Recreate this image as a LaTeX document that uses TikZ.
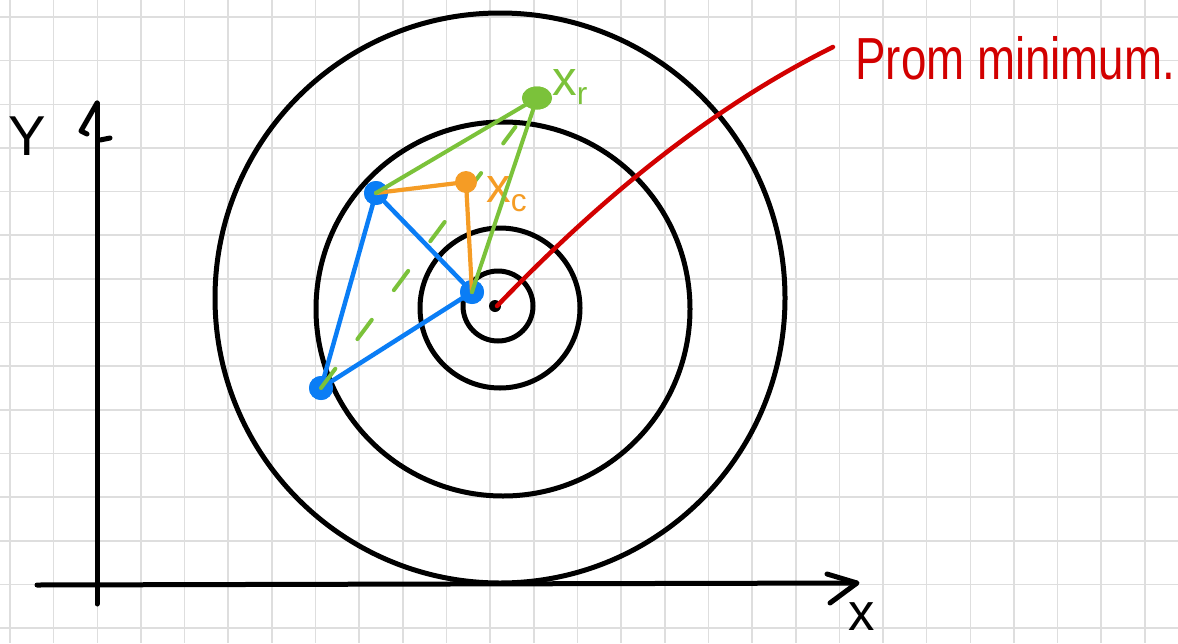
\documentclass[tikz,border=0pt]{standalone}
\usepackage{fontspec}
\setmainfont{Liberation Sans}
\usetikzlibrary{shapes.geometric,calc}
\definecolor{gridc}{HTML}{DEDEDE}
\definecolor{pblue}{HTML}{0A7DF5}
\definecolor{pgreen}{HTML}{7BC23A}
\definecolor{porange}{HTML}{F59C25}
\definecolor{pred}{HTML}{D20000}
\begin{document}
\begin{tikzpicture}[x=0.2mm,y=-0.2mm,
  lw/.style={line width=#1*0.2mm},
  ink/.style={line cap=round,line join=round},
  blob/.style={circle,fill=#1,inner sep=0pt,minimum size=4.8mm},
  gblob/.style={ellipse,fill=pgreen,inner sep=0pt,minimum width=6mm,minimum height=4.6mm},
  lab/.style={font=\fontsize{#1}{#1}\selectfont,inner sep=0pt},
]
\useasboundingbox (0,0) rectangle (1178,643);
\fill[white] (0,0) rectangle (1178,643);
% grid paper
\foreach \i in {0,...,26} \draw[gridc,lw=1.6] ({10+43.65*\i},0) -- ({10+43.65*\i},643);
\foreach \j in {0,...,14} \draw[gridc,lw=1.6] (0,{17+43.65*\j}) -- (1178,{17+43.65*\j});
% axes
\draw[ink,lw=5] (97,604) -- (97,103);
\draw[ink,lw=5] (97,103) -- (81,131) -- (87,134);
\draw[ink,lw=5] (100,140) -- (110,138);
\draw[ink,lw=5] (37,585) -- (856,583);
\draw[ink,lw=5] (827,574) -- (857,583) -- (830,603);
\node[lab=32] (ylab) at (27,136) {Y};
\node[lab=30,anchor=base] (xlab) at (862,630) {x};
% contour circles
\draw[lw=5] (500,298) circle[radius=285];
\draw[lw=5] (503,309) circle[radius=187];
\draw[lw=5] (500,308) circle[radius=80];
\draw[lw=5] (498,306) circle[radius=35];
\fill (495,306) circle[radius=6];
\coordinate (min) at (497,306);
% simplex points
\node[blob=pblue] (A) at (376,193) {};
\node[blob=pblue] (B) at (472,292) {};
\node[blob=pblue] (C) at (321,388) {};
\draw[pblue,ink,lw=4.5] (A.center) -- (B.center) -- (C.center) -- cycle;
\node[blob=pblue] at (A) {};
\node[blob=pblue] at (B) {};
\node[blob=pblue] at (C) {};
% reflection direction (dashed)
\node[gblob] (Xr) at (537,98) {};
\draw[pgreen,ink,lw=4,dash pattern=on 24*0.2mm off 37*0.2mm] (C.center) -- ($(C.center)!0.9!(Xr.center)$);
% centroid
\draw[porange,ink,lw=4.2] (A.center) -- (466,182) -- (B.center);
\node[blob=porange,minimum size=4.4mm] (Xc) at (466,182) {};
\node[lab=28,text=porange,anchor=base west] (xclab) at (486,202) {x\raisebox{-0.35ex}{\fontsize{18}{18}\selectfont c}};
% reflected point
\draw[pgreen,ink,lw=4] (A.center) -- (Xr.center) -- (B.center);
\node[gblob] at (Xr) {};
\node[lab=28,text=pgreen,anchor=base west] (xrlab) at (552,95) {x\raisebox{-0.35ex}{\fontsize{18}{18}\selectfont r}};
% minimum annotation
\node[lab=26,text=pred,anchor=base west] (note) at (855,79) {\scalebox{1}[1.3]{Prom minimum.}};
\draw[pred,ink,lw=4.5] (min) .. controls (575,225) and (690,118) .. (833,47);
\end{tikzpicture}
\end{document}
